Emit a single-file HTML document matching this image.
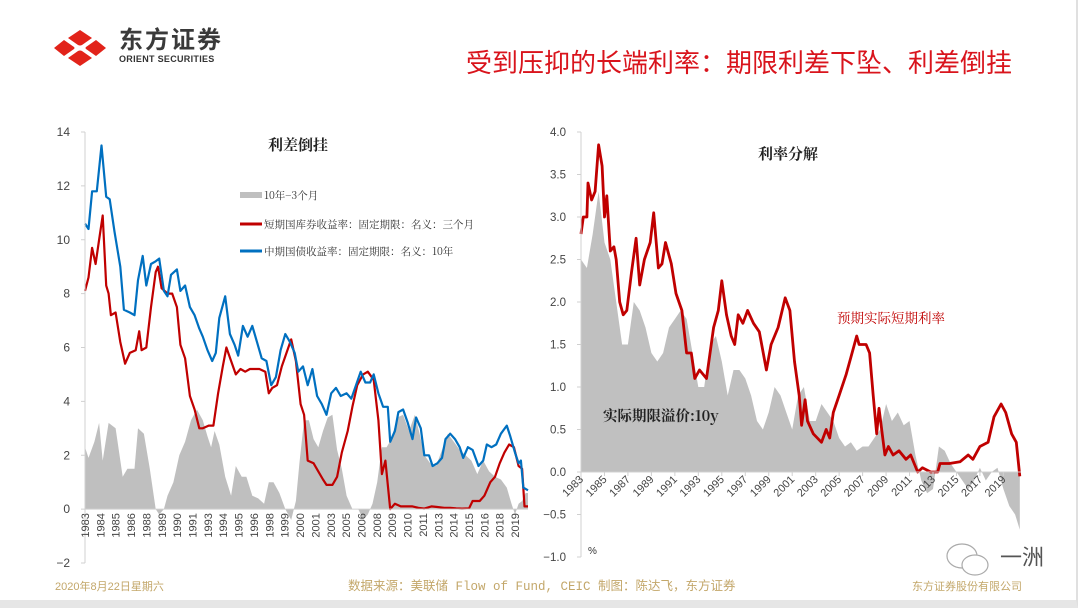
<!DOCTYPE html>
<html><head><meta charset="utf-8">
<style>
html,body{margin:0;padding:0;background:#fff;}
body{width:1080px;height:609px;position:relative;overflow:hidden;font-family:"Liberation Sans","Noto Sans CJK SC",sans-serif;}
.abs{position:absolute;}
</style></head>
<body>
<div class="abs" style="left:0;top:0;width:1076px;height:600px;border-right:2px solid #e0e0e0;border-bottom:8px solid #e6e6e6;"></div>
<svg class="abs" style="left:52px;top:28px" width="56" height="40" viewBox="0 0 56 40">
 <path d="M28 2 L40 10 L30 17 Q28 18 26 17 L16 10 Z" fill="#e2231a"/>
 <path d="M28 38 L40 30 L30 23 Q28 22 26 23 L16 30 Z" fill="#e2231a"/>
 <path d="M2 20 L12 12 L22 19 Q23 20 22 21 L12 28 Z" fill="#e2231a"/>
 <path d="M54 20 L44 12 L34 19 Q33 20 34 21 L44 28 Z" fill="#e2231a"/>
</svg>
<div class="abs" style="left:119px;top:29px;font-size:24px;line-height:24px;font-weight:bold;color:#3a3a3a;letter-spacing:2px;">东方证券</div>
<div class="abs" style="left:119px;top:55px;font-size:9px;line-height:9px;font-weight:bold;color:#333;letter-spacing:0.3px;">ORIENT SECURITIES</div>
<div class="abs" style="left:400px;top:43px;width:612px;text-align:right;font-size:26px;color:#d9141c;">受到压抑的长端利率：期限利差下坠、利差倒挂</div>

<svg class="abs" style="left:0;top:0" width="1080" height="609" id="svg"></svg>

<div class="abs" style="left:55px;top:578px;font-size:11px;color:#c3a76a;">2020年8月22日星期六</div>
<div class="abs" style="left:348px;top:575px;font-size:12.5px;color:#c3a76a;font-family:'Liberation Mono','Noto Sans CJK SC',monospace;">数据来源：美联储 Flow of Fund, CEIC  制图：陈达飞，东方证券</div>
<div class="abs" style="left:912px;top:578px;font-size:11px;color:#c3a76a;">东方证券股份有限公司</div>
<div class="abs" style="left:1000px;top:540px;font-size:22px;color:#555;">一洲</div>
<svg class="abs" style="left:944px;top:540px" width="50" height="40"><ellipse cx="18" cy="16" rx="15" ry="12" fill="none" stroke="#aaa" stroke-width="1.2"/><ellipse cx="31" cy="25" rx="13" ry="10" fill="#fff" stroke="#aaa" stroke-width="1.2"/></svg>

<script>
// ---------- LEFT CHART DATA ----------
const y10Years=[1983.0,1983.3,1983.6,1984.0,1984.4,1984.8,1985.1,1985.5,1986.0,1986.3,1986.8,1987.2,1987.5,1987.9,1988.2,1988.6,1989.0,1989.3,1989.7,1990.0,1990.3,1990.8,1991.1,1991.5,1991.9,1992.3,1992.7,1993.0,1993.4,1993.8,1994.1,1994.4,1994.9,1995.3,1995.7,1996.0,1996.4,1996.8,1997.2,1997.6,1998.0,1998.4,1998.8,1999.2,1999.6,2000.0,2000.4,2000.8,2001.1,2001.5,2001.9,2002.3,2002.7,2003.1,2003.5,2003.9,2004.3,2004.7,2005.2,2005.6,2006.0,2006.4,2006.8,2007.2,2007.5,2007.9,2008.3,2008.7,2008.9,2009.3,2009.6,2010.0,2010.4,2010.8,2011.1,2011.5,2011.8,2012.2,2012.5,2012.9,2013.3,2013.6,2014.0,2014.4,2014.8,2015.1,2015.5,2015.9,2016.4,2016.8,2017.1,2017.5,2017.9,2018.3,2018.8,2019.1,2019.5,2019.8,2020.0,2020.2,2020.6];
const y10Values=[10.6,10.4,11.8,11.8,13.5,11.6,11.5,10.3,9.0,7.4,7.3,7.2,8.5,9.4,8.3,9.1,9.2,9.3,8.1,7.9,8.7,8.9,8.1,8.3,7.5,7.2,6.7,6.4,5.9,5.5,5.8,7.1,7.9,6.5,6.1,5.7,6.8,6.4,6.8,6.2,5.6,5.5,4.6,4.9,5.9,6.5,6.2,5.8,5.1,5.3,4.6,5.2,4.2,3.9,3.5,4.3,4.5,4.2,4.3,4.1,4.6,5.1,4.7,4.7,5.0,4.3,3.8,3.8,2.5,2.9,3.6,3.7,3.2,2.6,3.4,3.0,2.0,2.0,1.6,1.7,1.9,2.6,2.8,2.6,2.3,1.9,2.3,2.2,1.6,1.8,2.4,2.3,2.4,2.8,3.1,2.7,2.1,1.7,1.8,0.8,0.7];
const t3mYears=[1983.0,1983.3,1983.6,1983.9,1984.2,1984.5,1984.8,1985.0,1985.2,1985.6,1986.0,1986.4,1986.8,1987.3,1987.6,1987.8,1988.2,1988.6,1989.0,1989.2,1989.5,1990.0,1990.4,1990.8,1991.1,1991.5,1991.9,1992.3,1992.7,1993.0,1993.5,1993.9,1994.3,1994.7,1995.0,1995.4,1995.8,1996.2,1996.6,1997.0,1997.4,1997.8,1998.3,1998.6,1998.9,1999.3,1999.7,2000.1,2000.5,2000.9,2001.3,2001.6,2001.9,2002.4,2002.8,2003.2,2003.5,2004.0,2004.4,2004.8,2005.3,2005.7,2006.1,2006.6,2007.0,2007.5,2007.9,2008.2,2008.5,2008.9,2009.3,2009.8,2010.3,2010.8,2011.3,2011.8,2012.4,2012.9,2013.5,2014.0,2014.5,2015.0,2015.6,2015.9,2016.5,2016.9,2017.4,2017.8,2018.2,2018.6,2019.0,2019.4,2019.8,2020.1,2020.3,2020.6];
const t3mValues=[8.1,8.6,9.7,9.1,10.0,10.9,8.3,8.0,7.2,7.3,6.2,5.4,5.8,5.9,6.6,5.9,6.0,7.5,8.8,9.0,8.2,8.0,8.0,7.5,6.1,5.6,4.2,3.7,3.0,3.0,3.1,3.1,4.3,5.3,6.0,5.5,5.0,5.2,5.1,5.2,5.2,5.2,5.1,4.3,4.5,4.6,5.3,5.8,6.3,5.5,3.9,3.5,1.8,1.7,1.4,1.1,0.9,0.9,1.2,2.1,2.9,3.8,4.6,5.0,5.1,4.8,3.3,1.3,1.8,0.0,0.2,0.1,0.1,0.1,0.05,0.02,0.1,0.08,0.05,0.05,0.03,0.02,0.03,0.3,0.3,0.5,1.0,1.2,1.7,2.1,2.4,2.3,1.6,1.5,0.1,0.1];
const spreadYears=[1983.0,1983.3,1983.8,1984.2,1984.5,1985.0,1985.6,1986.2,1986.6,1987.2,1987.5,1988.0,1988.5,1989.0,1989.3,1989.7,1990.0,1990.5,1991.0,1991.5,1992.0,1992.5,1993.0,1993.4,1993.7,1994.0,1994.4,1994.9,1995.4,1995.8,1996.3,1996.7,1997.2,1997.7,1998.2,1998.6,1999.0,1999.5,2000.0,2000.5,2000.9,2001.2,2001.6,2002.0,2002.4,2002.8,2003.2,2003.6,2004.0,2004.4,2004.8,2005.2,2005.7,2006.2,2006.6,2007.0,2007.4,2007.8,2008.2,2008.6,2009.0,2009.5,2010.0,2010.5,2011.0,2011.4,2011.8,2012.3,2012.8,2013.3,2013.8,2014.3,2014.8,2015.3,2015.8,2016.3,2016.8,2017.3,2017.8,2018.3,2018.8,2019.2,2019.5,2019.8,2020.1,2020.4,2020.6];
const spreadValues=[2.3,1.9,2.5,3.2,1.8,3.2,3.0,1.2,1.5,1.5,3.0,2.8,1.5,0.0,-0.2,0.0,0.5,1.0,2.0,2.5,3.3,3.7,3.3,2.7,2.3,2.9,2.4,1.2,0.5,1.6,1.2,1.2,0.5,0.4,0.2,1.0,1.0,0.6,0.0,-0.4,0.3,1.7,3.3,3.3,2.6,2.3,2.9,3.4,3.5,2.2,1.5,0.5,0.0,0.0,-0.4,-0.2,0.2,1.0,2.3,2.3,2.6,3.4,3.5,2.9,3.5,2.8,2.0,1.7,1.6,2.2,2.8,2.5,2.2,2.0,1.8,1.3,1.8,1.4,1.2,1.1,0.8,0.2,-0.2,0.2,0.3,0.6,0.6];
const leftYTicks=[-2,0,2,4,6,8,10,12,14];
const leftXLabels=["1983","1984","1985","1986","1988","1989","1990","1991","1993","1994","1995","1996","1998","1999","2000","2001","2003","2005","2006","2008","2009","2010","2011","2013","2014","2015","2016","2018","2019"];

// ---------- RIGHT CHART DATA ----------
const realYears=[1983.0,1983.2,1983.5,1983.6,1983.9,1984.2,1984.5,1984.8,1985.0,1985.2,1985.5,1985.8,1986.0,1986.3,1986.6,1986.9,1987.3,1987.7,1988.0,1988.4,1988.9,1989.2,1989.6,1989.9,1990.2,1990.7,1991.1,1991.6,1992.0,1992.4,1992.7,1993.1,1993.7,1994.3,1994.7,1995.0,1995.4,1995.8,1996.1,1996.4,1996.8,1997.2,1997.7,1998.2,1998.8,1999.2,1999.8,2000.4,2000.8,2001.2,2001.6,2001.8,2002.1,2002.3,2002.8,2003.5,2003.9,2004.2,2004.5,2005.0,2005.6,2006.0,2006.5,2006.7,2007.3,2007.6,2007.9,2008.2,2008.4,2008.9,2009.2,2009.6,2010.1,2010.7,2011.1,2011.7,2012.1,2012.8,2013.4,2013.6,2014.4,2015.3,2016.0,2016.4,2017.0,2017.7,2018.2,2018.8,2019.2,2019.7,2020.1,2020.4];
const realValues=[2.8,3.0,3.0,3.4,3.2,3.3,3.85,3.6,3.0,3.25,2.6,2.65,2.5,2.0,1.85,1.9,2.35,2.75,2.2,2.5,2.7,3.05,2.4,2.45,2.7,2.45,2.1,1.9,1.4,1.4,1.1,1.2,1.1,1.7,1.9,2.25,1.85,1.6,1.5,1.85,1.75,1.9,1.75,1.65,1.2,1.5,1.7,2.05,1.9,1.3,0.9,0.55,0.85,0.6,0.45,0.35,0.5,0.4,0.7,0.9,1.15,1.35,1.6,1.5,1.5,1.4,0.9,0.45,0.75,0.2,0.3,0.2,0.25,0.15,0.2,0.0,0.05,0.0,0.0,0.1,0.1,0.12,0.2,0.15,0.3,0.35,0.65,0.8,0.7,0.45,0.35,-0.05];
const tpYears=[1983.0,1983.5,1984.0,1984.5,1985.0,1985.5,1986.0,1986.5,1987.0,1987.5,1988.0,1988.5,1989.0,1989.5,1990.0,1990.5,1991.0,1991.5,1992.0,1992.5,1993.0,1993.5,1994.0,1994.5,1995.0,1995.5,1996.0,1996.5,1997.0,1997.5,1998.0,1998.5,1999.0,1999.5,2000.0,2000.5,2001.0,2001.5,2002.0,2002.5,2003.0,2003.5,2004.0,2004.5,2005.0,2005.5,2006.0,2006.5,2007.0,2007.5,2008.0,2008.5,2009.0,2009.5,2010.0,2010.5,2011.0,2011.5,2012.0,2012.5,2013.0,2013.5,2014.0,2014.5,2015.0,2015.5,2016.0,2016.5,2017.0,2017.5,2018.0,2018.5,2019.0,2019.5,2020.0,2020.4];
const tpValues=[2.5,2.4,2.8,3.3,2.7,2.5,2.0,1.5,1.5,2.0,1.9,1.7,1.4,1.3,1.4,1.7,1.8,1.9,1.8,1.4,1.0,1.0,1.5,1.6,1.3,0.9,1.2,1.2,1.1,0.9,0.6,0.5,0.7,1.0,0.9,0.7,0.5,0.9,1.0,0.6,0.6,0.8,0.7,0.6,0.4,0.3,0.35,0.25,0.3,0.3,0.4,0.5,0.8,0.6,0.7,0.55,0.6,0.2,-0.1,-0.25,-0.2,0.3,0.25,0.1,0.0,-0.1,-0.2,-0.1,0.05,-0.1,0.0,0.05,-0.2,-0.4,-0.5,-0.68];
const rightYTicks=[-1.0,-0.5,0.0,0.5,1.0,1.5,2.0,2.5,3.0,3.5,4.0];
const rightXLabels=[1983,1985,1987,1989,1991,1993,1995,1997,1999,2001,2003,2005,2007,2009,2011,2013,2015,2017,2019];

const svg=document.getElementById('svg');
const NS='http://www.w3.org/2000/svg';
function mk(tag,attrs,parent){const e=document.createElementNS(NS,tag);for(const k in attrs)e.setAttribute(k,attrs[k]);(parent||svg).appendChild(e);return e;}

const LX0=85,LX1=528,LY_TOP=132,LY_BOT=563;
const lx=yr=>LX0+(yr-1983)*(LX1-LX0)/37.6;
const ly=v=>LY_BOT-(v+2)*(LY_BOT-LY_TOP)/16;
const RX0=581,RX1=1021,RY_TOP=132,RY_BOT=557;
const rx=yr=>RX0+(yr-1983)*(RX1-RX0)/37.5;
const ry=v=>RY_BOT-(v+1)*(RY_BOT-RY_TOP)/5;

function areaPath(xs,vs,fx,fy){let d='M'+fx(xs[0])+','+fy(0);xs.forEach((x,i)=>{d+=' L'+fx(x).toFixed(1)+','+fy(vs[i]).toFixed(1);});d+=' L'+fx(xs[xs.length-1])+','+fy(0)+' Z';return d;}
function linePath(xs,vs,fx,fy){return xs.map((x,i)=>(i?'L':'M')+fx(x).toFixed(1)+','+fy(vs[i]).toFixed(1)).join(' ');}

// LEFT
const gL=mk('g',{});


const la=mk('path',{d:areaPath(spreadYears,spreadValues,lx,ly),fill:'#bfbfbf'},gL);


const lr=mk('path',{d:linePath(t3mYears,t3mValues,lx,ly),fill:'none',stroke:'#c00000','stroke-width':2.2,'stroke-linejoin':'round'},gL);


const lb=mk('path',{d:linePath(y10Years,y10Values,lx,ly),fill:'none',stroke:'#0070c0','stroke-width':2.2,'stroke-linejoin':'round'},gL);


const lya=mk('line',{x1:LX0,x2:LX0,y1:LY_TOP,y2:LY_BOT,stroke:'#d0d0d0'},gL);


const lxa=mk('line',{x1:LX0,x2:LX1,y1:ly(0),y2:ly(0),stroke:'#d0d0d0'},gL);


leftYTicks.forEach(v=>{
 mk('line',{x1:LX0-4,x2:LX0,y1:ly(v),y2:ly(v),stroke:'#d0d0d0'},gL);
 const t=mk('text',{x:70,y:ly(v)+4,'text-anchor':'end','font-size':12,fill:'#444'},gL);
 t.textContent=(v<0?'−':'')+Math.abs(v);
 
 
});
leftXLabels.forEach((s,i)=>{
 const x=LX0+i*15.36+4;
 const t=mk('text',{x:0,y:0,transform:`translate(${x},${ly(0)+4}) rotate(-90)`,'text-anchor':'end','font-size':11,fill:'#444'},gL);
 t.textContent=s;
 
 
});
const lt=mk('text',{x:298,y:150,'text-anchor':'middle','font-size':15,'font-weight':'bold',fill:'#222','font-family':'"Noto Serif CJK SC",serif'},gL);
lt.textContent='利差倒挂';


const legs=[['#bfbfbf','10年−3个月',195,'legend-spread'],['#c00000','短期国库券收益率：固定期限：名义：三个月',224,'legend-tbill'],['#0070c0','中期国债收益率：固定期限：名义：10年',251,'legend-10y']];
legs.forEach(([c,s,y,n])=>{
 const g=mk('g',{},gL);
 
 
 mk('rect',{x:240,y:y-(c==='#bfbfbf'?3:1.5),width:22,height:c==='#bfbfbf'?6:3,fill:c},g);
 const t=mk('text',{x:264,y:y+4,'font-size':10.5,fill:'#333','font-family':'"Noto Serif CJK SC",serif'},g);
 t.textContent=s;
});

// RIGHT
const gR=mk('g',{});


const ra=mk('path',{d:areaPath(tpYears,tpValues,rx,ry),fill:'#c0c0c0'},gR);


const rr=mk('path',{d:linePath(realYears,realValues,rx,ry),fill:'none',stroke:'#c00000','stroke-width':2.8,'stroke-linejoin':'round'},gR);


const rya=mk('line',{x1:RX0,x2:RX0,y1:RY_TOP,y2:RY_BOT,stroke:'#d0d0d0'},gR);


const rxa=mk('line',{x1:RX0,x2:RX1,y1:ry(0),y2:ry(0),stroke:'#d0d0d0'},gR);


rightYTicks.forEach(v=>{
 mk('line',{x1:RX0-4,x2:RX0,y1:ry(v),y2:ry(v),stroke:'#d0d0d0'},gR);
 const t=mk('text',{x:566,y:ry(v)+4,'text-anchor':'end','font-size':11.5,fill:'#444'},gR);
 t.textContent=(v<0?'−':'')+Math.abs(v).toFixed(1);
 
 
});
rightXLabels.forEach(yr=>{
 const x=rx(yr);
 mk('line',{x1:x,x2:x,y1:ry(0),y2:ry(0)+4,stroke:'#d0d0d0'},gR);
 const t=mk('text',{x:0,y:0,transform:`translate(${x+3},${ry(0)+8}) rotate(-45)`,'text-anchor':'end','font-size':11,fill:'#444'},gR);
 t.textContent=yr;
 
 
});
const rt=mk('text',{x:788,y:159,'text-anchor':'middle','font-size':15,'font-weight':'bold',fill:'#222','font-family':'"Noto Serif CJK SC",serif'},gR);
rt.textContent='利率分解';


const rl1=mk('text',{x:837,y:323,'font-size':13.5,fill:'#c00000','font-family':'"Noto Serif CJK SC",serif'},gR);
rl1.textContent='预期实际短期利率';


const rl2=mk('text',{x:603,y:421,'font-size':14.5,'font-weight':'bold',fill:'#222','font-family':'"Noto Serif CJK SC",serif'},gR);
rl2.textContent='实际期限溢价:10y';


const pu=mk('text',{x:588,y:554,'font-size':10,fill:'#333'},gR);
pu.textContent='%';


</script>
</body></html>
